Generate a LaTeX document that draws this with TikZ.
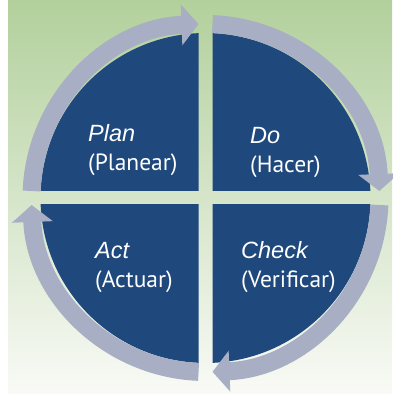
\documentclass[tikz,border=0pt]{standalone}
\usepackage{fontspec}
\setmainfont{PT Sans}
\newfontfamily\italicsans{Liberation Sans}
\usetikzlibrary{arrows.meta}

\definecolor{pdcablue}{RGB}{31,73,125}
\definecolor{cyclegray}{RGB}{168,174,196}
\definecolor{bggreen}{RGB}{178,208,156}
\definecolor{bgmid}{RGB}{218,233,204}
\definecolor{bgwhite}{RGB}{249,250,246}

\newcommand{\phase}[1]{{\italicsans\itshape #1}}

\tikzset{
    quadlabel/.style={align=left, text=white, inner sep=0pt, anchor=base west,
        font=\fontsize{23.5}{29}\selectfont},
    cyclearrow/.style={cyclegray, line width=18pt, -{Triangle[length=17pt,width=40pt]}}
}

\begin{document}
\begin{tikzpicture}[x=1pt,y=1pt]
    \useasboundingbox (0,0) rectangle (392,394);
    \shade[top color=bggreen, middle color=bgmid, bottom color=bgwhite] (8,0) rectangle (392,394);
    \coordinate (c) at (205.5,196);

    % four quadrants
    \foreach \sx/\sy in {1/1,1/-1,-1/-1,-1/1}{
        \begin{scope}[shift={(c)}]
            \clip (7*\sx,7*\sy) rectangle (200*\sx,200*\sy);
            \fill[pdcablue] (0,0) circle[radius=165];
        \end{scope}
    }

    % cycle arrows
    \draw[cyclearrow] ([shift={(177.7:174)}]c) arc[start angle=177.7, end angle=92.3, radius=174];
    \draw[cyclearrow] ([shift={(87.7:174)}]c) arc[start angle=87.7, end angle=2.3, radius=174];
    \draw[cyclearrow] ([shift={(-2.3:174)}]c) arc[start angle=-2.3, end angle=-87.7, radius=174];
    \draw[cyclearrow] ([shift={(-92.3:174)}]c) arc[start angle=-92.3, end angle=-177.7, radius=174];

    \node[quadlabel] (plan) at (88,223) {\phase{Plan}\\(Planear)};
    \node[quadlabel] (do) at (250,221) {\phase{Do}\\(Hacer)};
    \node[quadlabel] (act) at (95,106) {\phase{Act}\\(Actuar)};
    \node[quadlabel] (check) at (241,106) {\phase{Check}\\(Verificar)};
\end{tikzpicture}
\end{document}
